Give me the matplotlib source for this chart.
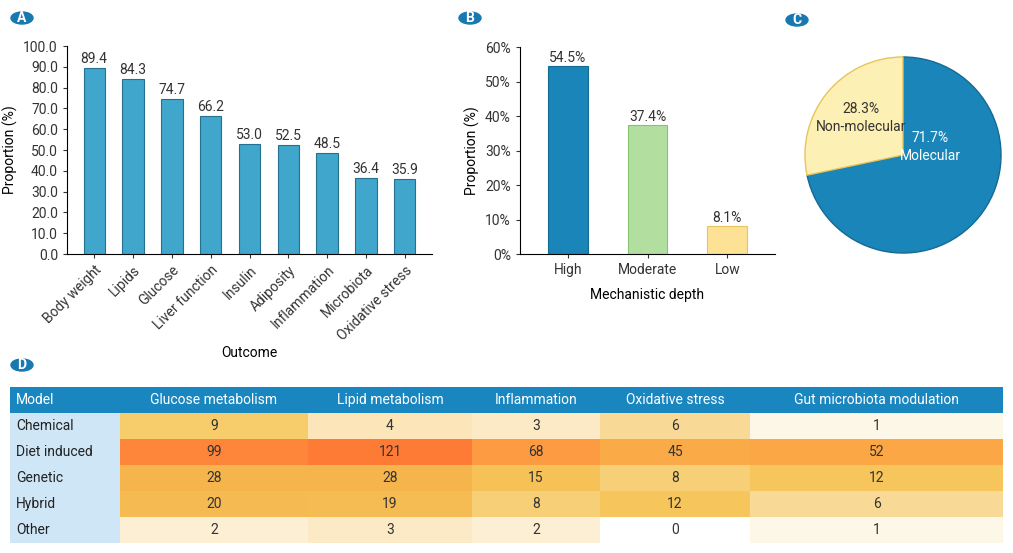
import numpy as np
import matplotlib
matplotlib.use("Agg")
import matplotlib.pyplot as plt
from matplotlib.colors import LinearSegmentedColormap
from matplotlib.patches import Circle

plt.rcParams['font.family'] = ['Roboto', 'DejaVu Sans']

outcomes = ['Body weight', 'Lipids', 'Glucose', 'Liver function', 'Insulin',
            'Adiposity', 'Inflammation', 'Microbiota', 'Oxidative stress']
outcome_pct = [89.4, 84.3, 74.7, 66.2, 53.0, 52.5, 48.5, 36.4, 35.9]

depths = ['High', 'Moderate', 'Low']
depth_pct = [54.5, 37.4, 8.1]

pie_labels = ['Molecular', 'Non-molecular']
pie_pct = [71.7, 28.3]

models = ['Chemical', 'Diet induced', 'Genetic', 'Hybrid', 'Other']
mechanisms = ['Glucose metabolism', 'Lipid metabolism', 'Inflammation',
              'Oxidative stress', 'Gut microbiota modulation']
counts = np.array([
    [9, 4, 3, 6, 1],
    [99, 121, 68, 45, 52],
    [28, 28, 15, 8, 12],
    [20, 19, 8, 12, 6],
    [2, 3, 2, 0, 1],
])

W, H = 1013, 553
fig = plt.figure(figsize=(W / 100, H / 100), dpi=100)

def ax_px(x0, y0, x1, y1):
    return fig.add_axes([x0 / W, 1 - y1 / H, (x1 - x0) / W, (y1 - y0) / H])

def badge(x, y, letter):
    fig.patches.append(Circle((x / W, 1 - y / H), 11 / W, transform=fig.transFigure,
                              color='#1878b0', zorder=5))
    fig.text(x / W, 1 - y / H, letter, color='white', ha='center', va='center',
             fontsize=10, fontweight='bold', zorder=6)

# Panel A
axA = ax_px(67, 46, 432, 254)
xa = np.arange(len(outcomes))
axA.bar(xa, outcome_pct, width=0.55, color='#41a6cc', edgecolor='#23708f', linewidth=0.8)
for x, v in zip(xa, outcome_pct):
    axA.text(x, v + 1, f'{v:.1f}', ha='center', va='bottom', fontsize=10, color='#333333')
axA.set_ylim(0, 100)
axA.set_xlim(-0.7, len(outcomes) - 0.3)
axA.set_yticks(np.arange(0, 101, 10))
axA.set_yticklabels([f'{t:.1f}' for t in range(0, 101, 10)], fontsize=10)
axA.set_xticks(xa)
axA.set_xticklabels(outcomes, rotation=45, ha='right', rotation_mode='anchor', fontsize=10)
axA.set_ylabel('Proportion (%)', fontsize=10)
axA.set_xlabel('Outcome', fontsize=10, labelpad=2)
for s in ['top', 'right']:
    axA.spines[s].set_visible(False)
axA.tick_params(length=3, colors='#333333')

# Panel B
axB = ax_px(520, 47, 775, 254)
xb = np.arange(len(depths))
axB.bar(xb, depth_pct, width=0.5, color=['#1a85b8', '#b2dfa0', '#fde295'],
        edgecolor=['#156a94', '#86c46e', '#e8c45a'], linewidth=0.8)
for x, v in zip(xb, depth_pct):
    axB.text(x, v + 0.4, f'{v:.1f}%', ha='center', va='bottom', fontsize=10, color='#333333')
axB.set_ylim(0, 60)
axB.set_xlim(-0.6, 2.6)
axB.set_yticks(np.arange(0, 61, 10))
axB.set_yticklabels([f'{t}%' for t in range(0, 61, 10)], fontsize=10)
axB.set_xticks(xb)
axB.set_xticklabels(depths, fontsize=10)
axB.set_ylabel('Proportion (%)', fontsize=10)
axB.set_xlabel('Mechanistic depth', fontsize=10, labelpad=8)
for s in ['top', 'right']:
    axB.spines[s].set_visible(False)
axB.tick_params(length=3, colors='#333333')

# Panel C
axC = ax_px(803, 55, 1003, 255)
wedges, _ = axC.pie(pie_pct, colors=['#1a85b8', '#fdf0b5'], startangle=90,
                    counterclock=False, wedgeprops=dict(linewidth=1))
wedges[0].set_edgecolor('#156a94')
wedges[1].set_edgecolor('#e8c45a')
axC.text(0.28, 0.08, f'{pie_pct[0]}%\n{pie_labels[0]}', ha='center', va='center',
         color='white', fontsize=10, linespacing=1.4)
axC.text(-0.43, 0.38, f'{pie_pct[1]}%\n{pie_labels[1]}', ha='center', va='center',
         color='#333333', fontsize=10, linespacing=1.4)
axC.set_xlim(-1.02, 1.02)
axC.set_ylim(-1.02, 1.02)

# Panel D table
cmap = LinearSegmentedColormap.from_list('heat', [
    (0.0, '#ffffff'), (0.15, '#fdf6e6'), (0.35, '#fbe3b5'), (0.5, '#f6c85e'),
    (0.7, '#f5b54c'), (0.85, '#fca445'), (1.0, '#fe7b36')])
norm_vals = np.log(counts + 1) / np.log(counts.max() + 1)

col_edges = [10, 120, 308, 472, 600, 750, 1003]
top, header_h, row_h = 387, 26, 26
axD = ax_px(10, top, 1003, top + header_h + row_h * len(models))
axD.set_xlim(10, 1003)
axD.set_ylim(top + header_h + row_h * len(models), top)
axD.axis('off')
axD.add_patch(plt.Rectangle((10, top), 993, header_h, color='#1a86c0', lw=0))
headers = ['Model'] + mechanisms
for j, h in enumerate(headers):
    if j == 0:
        axD.text(16, top + header_h / 2, h, color='white', va='center', fontsize=10)
    else:
        cx = (col_edges[j] + col_edges[j + 1]) / 2
        axD.text(cx, top + header_h / 2, h, color='white', ha='center', va='center', fontsize=10)
for i, m in enumerate(models):
    y0 = top + header_h + i * row_h
    axD.add_patch(plt.Rectangle((10, y0), 110, row_h, color='#cfe6f7', lw=0))
    axD.text(16, y0 + row_h / 2, m, va='center', fontsize=10, color='#222222')
    for j in range(len(mechanisms)):
        x0 = col_edges[j + 1]
        axD.add_patch(plt.Rectangle((x0, y0), col_edges[j + 2] - x0, row_h,
                                    color=cmap(norm_vals[i, j]), lw=0))
        axD.text(x0 + (col_edges[j + 2] - x0) / 2, y0 + row_h / 2, str(counts[i, j]),
                 ha='center', va='center', fontsize=10, color='#333333')

badge(22, 18, 'A')
badge(470, 18, 'B')
badge(797, 20, 'C')
badge(22, 365, 'D')

fig.savefig('out.png', dpi=100)
